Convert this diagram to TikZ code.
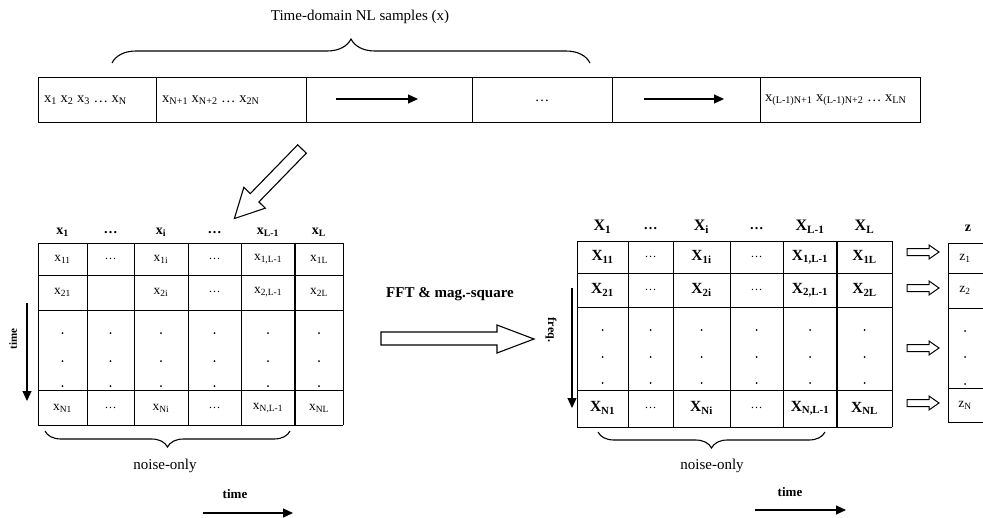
\documentclass[tikz,border=0pt]{standalone}
\usepackage{fontspec}
\setmainfont{Liberation Serif}
\usetikzlibrary{arrows.meta,decorations.pathreplacing}
\newcommand\mysub[2]{#1\textsubscript{#2}}
\tikzset{
  grid/.style={line width=1pt},
  thickdiv/.style={line width=2.4pt},
  toptxt/.style={inner sep=0pt,font=\fontsize{14.5}{15}\selectfont},
  cell/.style={inner sep=0pt,font=\fontsize{13.5}{14}\selectfont},
  bigcell/.style={inner sep=0pt,font=\bfseries\fontsize{15.5}{16}\selectfont},
  dotcell/.style={inner sep=0pt,font=\fontsize{12}{13}\selectfont},
  head/.style={inner sep=0pt,font=\bfseries\fontsize{14}{15}\selectfont},
  bighead/.style={inner sep=0pt,font=\bfseries\fontsize{16}{17}\selectfont},
  lbl/.style={inner sep=0pt,font=\fontsize{15}{16}\selectfont},
  smalllbl/.style={inner sep=0pt,font=\bfseries\fontsize{13}{14}\selectfont},
  solidarrow/.style={line width=1.2pt,-{Triangle[length=10pt,width=9pt]}},
  hollow/.style={line width=1.1pt,fill=white,line join=miter},
  bracestyle/.style={line width=1.1pt,decorate,decoration={brace,amplitude=16pt}},
}
\begin{document}
\begin{tikzpicture}[x=1pt,y=-1pt]
\useasboundingbox (0,0) rectangle (983,517);
% ---------- top row ----------
\node[lbl] (title) at (360,17) {Time-domain NL samples (x)};
\coordinate (tb1) at (112,63);
\coordinate (tb2) at (590,63);
\draw[bracestyle,decoration={amplitude=24pt}] (tb1) -- (tb2);
\draw[grid] (38,77) rectangle (920,122);
\foreach \x in {156,306,472,612,760} \draw[grid] (\x,77) -- (\x,122);
\node[toptxt,anchor=west] (t1) at (44,100) {\mysub{x}{1} \mysub{x}{2} \mysub{x}{3} … \mysub{x}{N}};
\node[toptxt,anchor=west] (t2) at (162,100) {\mysub{x}{N+1} \mysub{x}{N+2} … \mysub{x}{2N}};
\coordinate (a1s) at (336,99); \coordinate (a1e) at (418,99);
\draw[solidarrow] (a1s) -- (a1e);
\node[toptxt] (t4) at (542,101) {…};
\coordinate (a2s) at (644,99); \coordinate (a2e) at (724,99);
\draw[solidarrow] (a2s) -- (a2e);
\node[toptxt,anchor=west] (t6) at (765,100) {\mysub{x}{(L-1)N+1} \mysub{x}{(L-1)N+2} … \mysub{x}{LN}};
% ---------- diagonal hollow arrow ----------
\begin{scope}[shift={(302,149)},rotate=225.8]
\draw[hollow] (0,-6) -- (68,-6) -- (68,-15) -- (97,0) -- (68,15) -- (68,6) -- (0,6) -- cycle;
\end{scope}
% ---------- left matrix ----------
\foreach \y in {243,275,310,390,425} \draw[grid] (38,\y) -- (343,\y);
\foreach \x in {38,87,134,188,241,343} \draw[grid] (\x,243) -- (\x,425);
\draw[thickdiv] (295,243) -- (295,425);
\node[head] (lh1) at (62.5,232) {\mysub{x}{1}};
\node[head] (lh2) at (110.5,233) {…};
\node[head] (lh3) at (161,232) {\mysub{x}{i}};
\node[head] (lh4) at (214.5,233) {…};
\node[head] (lh5) at (268,232) {\mysub{x}{L-1}};
\node[head] (lh6) at (319,232) {\mysub{x}{L}};
\node[cell] (l11) at (62.5,259) {\mysub{x}{11}};
\node[dotcell] (l12) at (110.5,259) {…};
\node[cell] (l13) at (161,259) {\mysub{x}{1i}};
\node[dotcell] (l14) at (214.5,259) {…};
\node[cell] (l15) at (268,259) {\mysub{x}{1,L-1}};
\node[cell] (l16) at (319,259) {\mysub{x}{1L}};
\node[cell] (l21) at (62.5,292) {\mysub{x}{21}};
\node[cell] (l23) at (161,292) {\mysub{x}{2i}};
\node[dotcell] (l24) at (214.5,292) {…};
\node[cell] (l25) at (268,292) {\mysub{x}{2,L-1}};
\node[cell] (l26) at (319,292) {\mysub{x}{2L}};
\foreach \x in {62.5,110.5,161,214.5,268,319}
  \foreach \y in {333,361,386} \fill (\x,\y) circle (1pt);
\node[cell] (lN1) at (62.5,408) {\mysub{x}{N1}};
\node[dotcell] (lN2) at (110.5,408) {…};
\node[cell] (lN3) at (161,408) {\mysub{x}{Ni}};
\node[dotcell] (lN4) at (214.5,408) {…};
\node[cell] (lN5) at (268,408) {\mysub{x}{N,L-1}};
\node[cell] (lN6) at (319,408) {\mysub{x}{NL}};
\coordinate (lts) at (27,303); \coordinate (lte) at (27,401);
\draw[solidarrow] (lts) -- (lte);
\node[head,font=\bfseries\fontsize{11}{12}\selectfont,rotate=90] (ltime) at (13,339) {time};
\coordinate (lb1) at (45,431); \coordinate (lb2) at (290,431);
\draw[bracestyle,decoration={mirror}] (lb1) -- (lb2);
\node[lbl] (lnoise) at (165,466) {noise-only};
\node[smalllbl] (ltime2) at (235,494) {time};
\coordinate (lta) at (203,513); \coordinate (ltb) at (293,513);
\draw[solidarrow] (lta) -- (ltb);
% ---------- FFT arrow ----------
\node[lbl,font=\bfseries\fontsize{15}{16}\selectfont] (fft) at (450,294) {FFT \& mag.-square};
\draw[hollow] (381,332) -- (497,332) -- (497,325) -- (534,339) -- (497,353) -- (497,345) -- (381,345) -- cycle;
% ---------- right matrix ----------
\foreach \y in {241,273,307,390,427} \draw[grid] (577,\y) -- (892,\y);
\foreach \x in {577,628,673,730,783,892} \draw[grid] (\x,241) -- (\x,427);
\draw[thickdiv] (837,241) -- (837,427);
\node[bighead] (rh1) at (602.5,227) {\mysub{X}{1}};
\node[head] (rh2) at (650.5,229) {…};
\node[bighead] (rh3) at (701.5,227) {\mysub{X}{i}};
\node[head] (rh4) at (756.5,229) {…};
\node[bighead] (rh5) at (810,227) {\mysub{X}{L-1}};
\node[bighead] (rh6) at (864.5,227) {\mysub{X}{L}};
\node[bigcell] (r11) at (602.5,257) {\mysub{X}{11}};
\node[dotcell] (r12) at (650.5,257) {…};
\node[bigcell] (r13) at (701.5,257) {\mysub{X}{1i}};
\node[dotcell] (r14) at (756.5,257) {…};
\node[bigcell] (r15) at (810,257) {\mysub{X}{1,L-1}};
\node[bigcell] (r16) at (864.5,257) {\mysub{X}{1L}};
\node[bigcell] (r21) at (602.5,290) {\mysub{X}{21}};
\node[dotcell] (r22) at (650.5,290) {…};
\node[bigcell] (r23) at (701.5,290) {\mysub{X}{2i}};
\node[dotcell] (r24) at (756.5,290) {…};
\node[bigcell] (r25) at (810,290) {\mysub{X}{2,L-1}};
\node[bigcell] (r26) at (864.5,290) {\mysub{X}{2L}};
\foreach \x in {602.5,650.5,701.5,756.5,810,864.5}
  \foreach \y in {330,357,383} \fill (\x,\y) circle (1pt);
\node[bigcell] (rN1) at (602.5,408) {\mysub{X}{N1}};
\node[dotcell] (rN2) at (650.5,408) {…};
\node[bigcell] (rN3) at (701.5,408) {\mysub{X}{Ni}};
\node[dotcell] (rN4) at (756.5,408) {…};
\node[bigcell] (rN5) at (810,408) {\mysub{X}{N,L-1}};
\node[bigcell] (rN6) at (864.5,408) {\mysub{X}{NL}};
\coordinate (rfs) at (572,288); \coordinate (rfe) at (572,408);
\draw[solidarrow] (rfs) -- (rfe);
\node[head,font=\bfseries\fontsize{12}{13}\selectfont,rotate=-90] (rfreq) at (551,330) {freq.};
\coordinate (rb1) at (598,432); \coordinate (rb2) at (825,432);
\draw[bracestyle,decoration={mirror}] (rb1) -- (rb2);
\node[lbl] (rnoise) at (712,466) {noise-only};
\node[smalllbl] (rtime2) at (790,492) {time};
\coordinate (rta) at (755,510); \coordinate (rtb) at (846,510);
\draw[solidarrow] (rta) -- (rtb);
% ---------- z column ----------
\foreach \y in {243,273,308,388,422} \draw[grid] (948,\y) -- (983,\y);
\draw[grid] (948,243) -- (948,422);
\node[head] (zh) at (968,228) {z};
\node[cell] (z1) at (965,258) {\mysub{z}{1}};
\node[cell] (z2) at (965,290) {\mysub{z}{2}};
\foreach \y in {331,357,384} \fill (965,\y) circle (1pt);
\node[cell] (zN) at (965,405) {\mysub{z}{N}};
\foreach \y in {252,288,348,403}
  \draw[hollow,line width=1pt] (907,\y-3.5) -- (929,\y-3.5) -- (929,\y-7) -- (939,\y) -- (929,\y+7) -- (929,\y+3.5) -- (907,\y+3.5) -- cycle;
\end{tikzpicture}
\end{document}
